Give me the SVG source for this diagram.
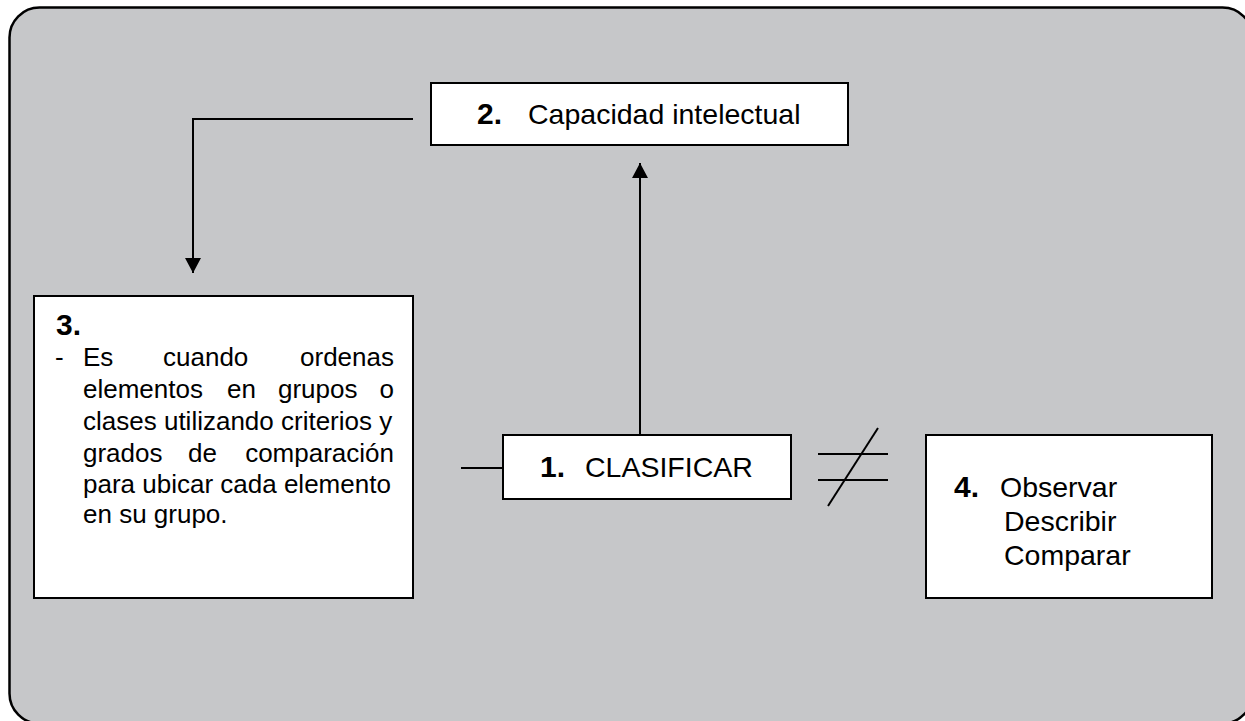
<svg xmlns="http://www.w3.org/2000/svg" width="1245" height="721" viewBox="0 0 1245 721">
<style>
.box{fill:#ffffff;stroke:#000000;stroke-width:2}
.ln{fill:none;stroke:#000000;stroke-width:2}
.t{font-family:"Liberation Sans",Arial,sans-serif;fill:#000000}
.b{font-weight:bold;font-size:30px}
.s28{font-size:28.5px}
.s26{font-size:26px}
</style>
<defs>
<marker id="arr" markerWidth="16" markerHeight="16" refX="15" refY="8" orient="auto" markerUnits="userSpaceOnUse">
<path d="M0,0 L15,8 L0,16 Z" fill="#000000"/>
</marker>
</defs>
<rect x="9.5" y="7.5" width="1243" height="716" rx="30" ry="30" fill="#c6c7c9" stroke="#000000" stroke-width="2.5"/>
<g id="connectors">
<polyline class="ln" points="413,119 193,119 193,273" marker-end="url(#arr)"/>
<line class="ln" x1="640" y1="435" x2="640" y2="163" marker-end="url(#arr)"/>
<line class="ln" x1="461" y1="468" x2="503" y2="468"/>
<line class="ln" x1="818" y1="454" x2="888" y2="454"/>
<line class="ln" x1="818" y1="480" x2="888" y2="480"/>
<line class="ln" x1="878" y1="428" x2="828" y2="506"/>
</g>
<g id="node2">
<rect class="box" x="431" y="83" width="417" height="62"/>
<text class="t s28" x="477" y="124"><tspan class="b">2.</tspan><tspan x="528">Capacidad intelectual</tspan></text>
</g>
<g id="node1">
<rect class="box" x="503" y="435" width="288" height="64"/>
<text class="t s28" x="540" y="477"><tspan class="b">1.</tspan><tspan x="585">CLASIFICAR</tspan></text>
</g>
<g id="node3">
<rect class="box" x="34" y="296" width="379" height="302"/>
<text class="t b" x="56" y="335">3.</text>
<g class="t s26">
<text x="55" y="366">-</text>
<text x="83" y="366">Es</text>
<text x="163" y="366">cuando</text>
<text x="394" y="366" text-anchor="end">ordenas</text>
<text x="83" y="398">elementos</text>
<text x="227" y="398">en</text>
<text x="278" y="398">grupos</text>
<text x="394" y="398" text-anchor="end">o</text>
<text x="83" y="430">clases utilizando criterios y</text>
<text x="83" y="462">grados</text>
<text x="188" y="462">de</text>
<text x="394" y="462" text-anchor="end">comparación</text>
<text x="83" y="493">para ubicar cada elemento</text>
<text x="83" y="523">en su grupo.</text>
</g>
</g>
<g id="node4">
<rect class="box" x="926" y="435" width="286" height="163"/>
<text class="t s28" x="954" y="497"><tspan class="b">4.</tspan><tspan x="1000">Observar</tspan></text>
<text class="t s28" x="1004" y="531">Describir</text>
<text class="t s28" x="1004" y="565">Comparar</text>
</g>
</svg>
